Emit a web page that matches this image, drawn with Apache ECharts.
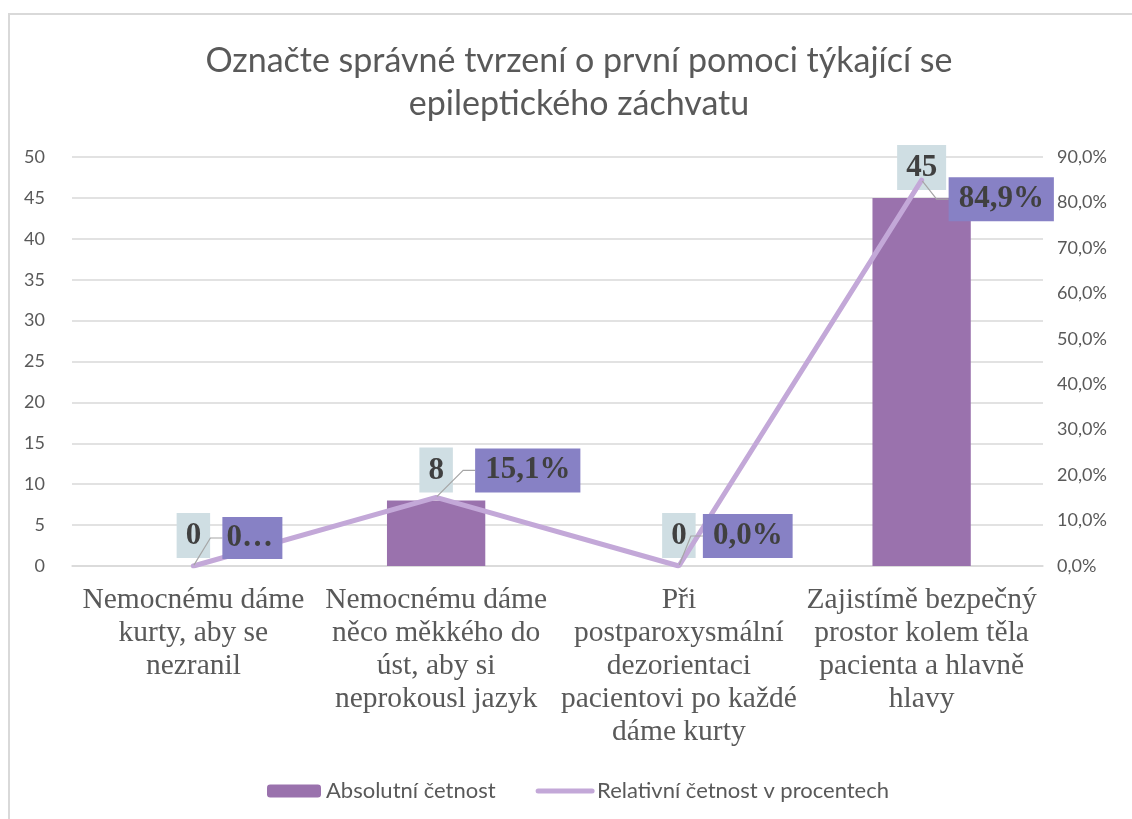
<!DOCTYPE html>
<html>
<head>
<meta charset="utf-8">
<script src="https://cdn.jsdelivr.net/npm/echarts@6/dist/echarts.min.js"></script>
<style>
  html, body { margin: 0; padding: 0; background: #fff; }
  .frame { position: absolute; left: 8px; top: 13px; width: 1200px; height: 900px;
           border-left: 2px solid #d9d9d9; border-top: 2px solid #d9d9d9; }
  #chart { position: absolute; left: 0; top: 0; width: 1132px; height: 819px; }
</style>
</head>
<body>
<div class="frame"></div>
<div id="chart"></div>
<script>
// kategorie (osa x)
const categories = [
  'Nemocnému dáme\nkurty, aby se\nnezranil',
  'Nemocnému dáme\nněco měkkého do\núst, aby si\nneprokousl jazyk',
  'Při\npostparoxysmální\ndezorientaci\npacientovi po každé\ndáme kurty',
  'Zajistímě bezpečný\nprostor kolem těla\npacienta a hlavně\nhlavy'
]

// absolutní četnost
const absoluteCounts = [0, 8, 0, 45]

// relativní četnost v procentech
const relativePercent = [0, 15.1, 0, 84.9]

// posun popisků čáry
const lineLabelDx = [0, 10, -5, -2]
const lineLabelDy = [-28, -27, -30, 19]

const serif = "'Liberation Serif', 'Times New Roman', serif"
const sans = "Lato, 'Noto Sans', sans-serif"

const fmtPct = v => v.toFixed(1).replace('.', ',') + '%'

const chart = echarts.init(document.getElementById('chart'))

const option = {
  animation: false,
  backgroundColor: 'transparent',
  title: {
    text: 'Označte správné tvrzení o první pomoci týkající se\nepileptického záchvatu',
    left: 574,
    textAlign: 'center',
    top: 35,
    textStyle: {
      fontFamily: sans,
      fontSize: 34,
      fontWeight: 'normal',
      color: '#595959',
      lineHeight: 43
    }
  },
  legend: {
    data: [
      { name: 'Absolutní četnost' },
      {
        name: 'Relativní četnost v procentech',
        itemStyle: { opacity: 0 },
        lineStyle: { width: 5, cap: 'round' }
      }
    ],
    left: 262,
    top: 775,
    itemWidth: 54,
    itemHeight: 13,
    itemGap: 40,
    textStyle: {
      fontFamily: sans,
      fontSize: 22,
      color: '#595959',
      padding: [0, 0, 0, 0]
    }
  },
  grid: {
    left: 72,
    right: 89,
    top: 157,
    bottom: 253
  },
  xAxis: {
    type: 'category',
    data: categories,
    axisTick: { show: false },
    axisLine: { lineStyle: { color: '#d9d9d9', width: 1.5 } },
    axisLabel: {
      interval: 0,
      margin: 18,
      fontFamily: serif,
      fontSize: 29.5,
      lineHeight: 33,
      color: '#595959'
    }
  },
  yAxis: [
    {
      type: 'value',
      min: 0,
      max: 50,
      interval: 5,
      axisLine: { show: false },
      axisTick: { show: false },
      splitLine: { lineStyle: { color: '#d9d9d9', width: 1.5 } },
      axisLabel: {
        margin: 27,
        fontFamily: sans,
        fontSize: 18,
        color: '#595959'
      }
    },
    {
      type: 'value',
      min: 0,
      max: 90,
      interval: 10,
      axisLine: { show: false },
      axisTick: { show: false },
      splitLine: { show: false },
      axisLabel: {
        margin: 14,
        fontFamily: sans,
        fontSize: 18,
        color: '#595959',
        formatter: v => fmtPct(v)
      }
    }
  ],
  series: [
    {
      name: 'Absolutní četnost',
      type: 'bar',
      data: absoluteCounts,
      barWidth: '40.5%',
      itemStyle: { color: '#9a72ad' },
      z: 2,
      label: {
        show: true,
        position: 'top',
        distance: 8,
        fontFamily: serif,
        fontSize: 31,
        fontWeight: 'bold',
        color: '#404040',
        lineHeight: 36,
        backgroundColor: '#cfdee3',
        padding: [5, 9, 4, 9]
      }
    },
    {
      name: 'Relativní četnost v procentech',
      type: 'line',
      yAxisIndex: 1,
      data: relativePercent.map((v, i) => i === 0
        ? { value: v, label: { width: 56, overflow: 'truncate', ellipsis: '…', padding: [3, 0, 3, 4] } }
        : v),
      symbol: 'circle',
      symbolSize: 2,
      lineStyle: { color: '#c3a8d8', width: 5, cap: 'round' },
      itemStyle: { color: '#c3a8d8' },
      z: 3,
      label: {
        show: true,
        position: 'right',
        distance: 28,
        formatter: p => fmtPct(p.value),
        fontFamily: serif,
        fontSize: 31,
        fontWeight: 'bold',
        color: '#404040',
        lineHeight: 36,
        backgroundColor: '#8781c5',
        padding: [4, 10, 4, 10]
      },
      labelLayout: p => ({ dx: lineLabelDx[p.dataIndex], dy: lineLabelDy[p.dataIndex] }),
      labelLine: {
        show: true,
        length2: 12,
        lineStyle: { color: '#a6a6a6', width: 1.2 }
      }
    }
  ]
}

chart.setOption(option)
</script>
</body>
</html>
